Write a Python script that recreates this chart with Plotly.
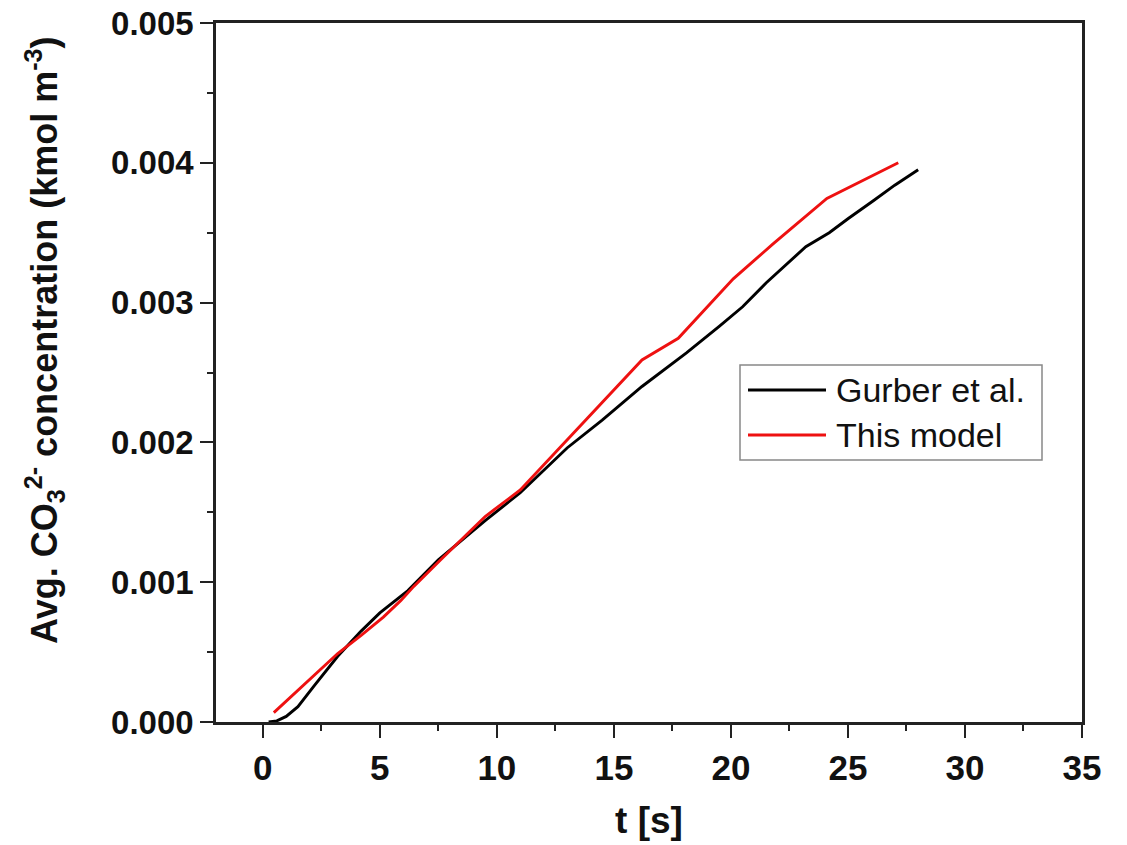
import plotly.graph_objects as go

# Time [s] and average carbonate concentration [kmol m^-3]
t_gurber = [0.25, 0.6, 1.0, 1.5, 2.2, 3.2, 4.2, 5.0, 6.2, 7.5, 9.5, 11.0, 13.0,
            14.5, 16.2, 18.1, 19.5, 20.5, 21.5, 22.3, 23.2, 24.2, 25.0, 26.1,
            27.0, 28.0]
c_gurber = [0.0, 0.000008, 0.00004, 0.00011, 0.00026, 0.00047, 0.00065, 0.00078,
            0.00094, 0.00116, 0.00144, 0.00164, 0.00196, 0.00216, 0.00240,
            0.00264, 0.00283, 0.00297, 0.00314, 0.00326, 0.00340, 0.00350,
            0.00360, 0.00373, 0.00384, 0.00395]

t_model = [0.47, 3.2, 4.2, 5.15, 5.9, 6.45, 7.6, 9.5, 11.0, 12.9, 16.2, 17.75,
           20.1, 21.8, 24.1, 27.15]
c_model = [0.000067, 0.00049, 0.00062, 0.00075, 0.00087, 0.00097, 0.00116,
           0.00147, 0.00166, 0.00200, 0.00259, 0.002745, 0.00317, 0.00342,
           0.003745, 0.0040]

series_names = ["Gurber et al.", "This model"]
series_colors = ["#000000", "#ee1111"]

x_ticks = [0, 5, 10, 15, 20, 25, 30, 35]
y_ticks = [0.000, 0.001, 0.002, 0.003, 0.004, 0.005]

x_title = "<b>t [s]</b>"
y_title = "<b>Avg. CO<sub>3</sub><sup>2-</sup> concentration (kmol m<sup>-3</sup>)</b>"

SANS = "Liberation Sans, Arial, sans-serif"

fig = go.Figure()
for t, c, name, col in [(t_gurber, c_gurber, series_names[0], series_colors[0]),
                        (t_model, c_model, series_names[1], series_colors[1])]:
    fig.add_trace(go.Scatter(x=t, y=c, mode="lines", name=name,
                             line=dict(color=col, width=2.9),
                             showlegend=False))

axis_common = dict(
    showline=True, linecolor="#222222", linewidth=2.5, mirror=True,
    ticks="outside", ticklen=13, tickwidth=2.2, tickcolor="#222222",
    showgrid=False, zeroline=False,
)

fig.update_xaxes(
    range=[-2, 35], tickvals=x_ticks,
    tickfont=dict(family=SANS, size=35, color="#111111", weight="bold"),
    minor=dict(ticks="outside", ticklen=6, tickwidth=2.2, tickcolor="#222222",
               dtick=2.5, tick0=0),
    title=dict(text=x_title, font=dict(family=SANS, size=37, color="#111111"),
               standoff=22),
    **axis_common,
)
fig.update_yaxes(
    range=[0, 0.005], tickvals=y_ticks, tickformat=".3f",
    tickfont=dict(family=SANS, size=33, color="#111111", weight="bold"),
    minor=dict(ticks="outside", ticklen=6, tickwidth=2.2, tickcolor="#222222",
               dtick=0.0005, tick0=0),
    **axis_common,
)

W, H = 1127, 845
ml, mr, mt, mb = 216, 45, 23, 123
pw, ph = W - ml - mr, H - mt - mb


def px(x):
    return (x - ml) / pw


def py(y):
    return 1 - (y - mt) / ph


# Vertical axis title, placed a little above the plot centre
annotations = [dict(xref="paper", yref="paper", x=px(44), y=py(340),
                    xanchor="center", yanchor="middle", textangle=-90,
                    showarrow=False, text=y_title,
                    font=dict(family=SANS, size=36, color="#111111"))]

# Legend box with long sample lines
lx0, lx1, ly0, ly1 = 740, 1042, 365, 460
shapes = [dict(type="rect", xref="paper", yref="paper",
               x0=px(lx0), x1=px(lx1), y0=py(ly1), y1=py(ly0),
               line=dict(color="#888888", width=1.5), fillcolor="white")]
for i, (name, col) in enumerate(zip(series_names, series_colors)):
    yy = 390 + i * 45
    shapes.append(dict(type="line", xref="paper", yref="paper",
                       x0=px(748), x1=px(826), y0=py(yy), y1=py(yy),
                       line=dict(color=col, width=2.9)))
    annotations.append(dict(xref="paper", yref="paper", x=px(834), y=py(yy),
                            xanchor="left", yanchor="middle", showarrow=False,
                            text=name, font=dict(family=SANS, size=34, color="#111111")))

fig.update_layout(
    width=W, height=H,
    margin=dict(l=ml, r=mr, t=mt, b=mb, autoexpand=False),
    paper_bgcolor="white", plot_bgcolor="white",
    shapes=shapes, annotations=annotations,
)

fig.write_html("out.html")
